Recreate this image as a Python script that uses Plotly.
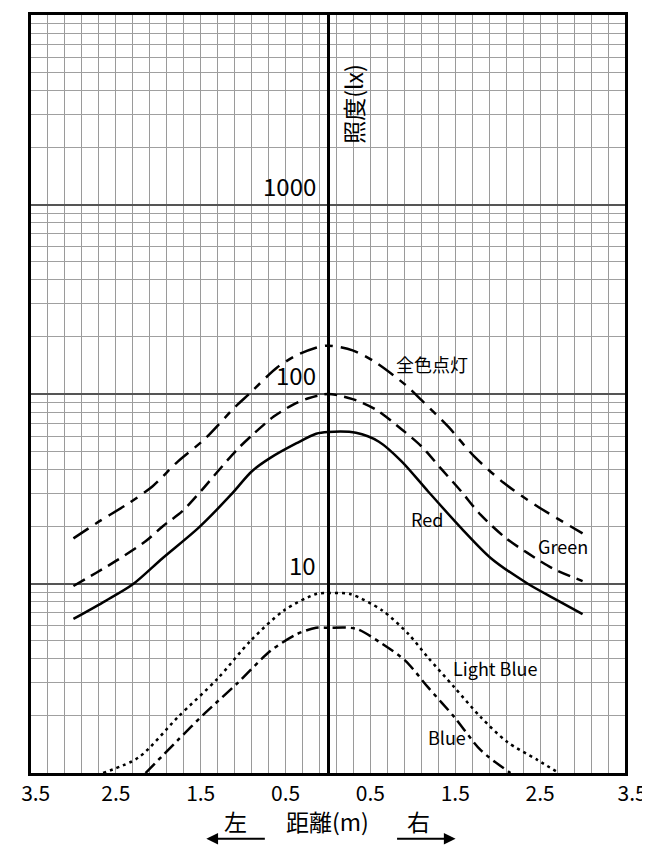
import math
import plotly.graph_objects as go

# ---- data (distance in m, negative = left; illuminance in lx) ----
all_x = [-3.0, -2.73, -2.35, -2.07, -1.77, -1.45, -1.1, -0.93, -0.6, -0.37, -0.15, 0.0,
         0.29, 0.56, 0.91, 1.1, 1.42, 1.72, 2.07, 2.47, 3.0]
all_y = [17.3, 20.8, 26.5, 32.5, 44, 58, 85, 100, 138, 160, 175, 180,
         170, 147, 112, 93, 67, 47, 34, 25.5, 18.4]

green_x = [-3.0, -2.73, -2.47, -2.15, -1.95, -1.72, -1.49, -1.3, -1.07, -0.87, -0.64, -0.41, -0.23, 0.0,
           0.29, 0.56, 0.87, 1.1, 1.34, 1.57, 1.8, 2.1, 2.35, 2.65, 3.0]
green_y = [9.7, 11.4, 13.4, 16.7, 20, 24, 31, 39, 51, 62, 76, 88, 95, 100,
           94, 83, 65, 53, 40, 30.6, 23, 17.3, 14.5, 12, 10.3]

red_x = [-3.0, -2.62, -2.3, -1.95, -1.53, -1.14, -0.9, -0.68, -0.37, -0.14, 0.0,
         0.33, 0.6, 0.87, 1.18, 1.57, 1.92, 2.35, 2.65, 3.0]
red_y = [6.5, 8.1, 9.9, 13.6, 19.6, 29.5, 39, 46, 55, 61.7, 63,
         62.4, 56, 44, 30.6, 19.6, 13.6, 10, 8.4, 6.9]

lblue_x = [-2.65, -2.23, -1.77, -1.3, -0.91, -0.52, -0.14, 0.0,
           0.26, 0.64, 0.95, 1.18, 1.49, 1.8, 2.11, 2.47, 2.72]
lblue_y = [1.0, 1.21, 1.97, 3.15, 5.0, 7.2, 8.8, 8.9,
           8.8, 7.2, 5.4, 4.06, 2.83, 1.97, 1.46, 1.17, 1.0]

blue_x = [-2.15, -1.77, -1.45, -1.07, -0.68, -0.37, -0.14, 0.0,
          0.33, 0.64, 0.91, 1.18, 1.49, 1.8, 2.15]
blue_y = [1.0, 1.49, 2.07, 2.97, 4.4, 5.4, 5.84, 5.84,
          5.77, 4.8, 3.92, 2.83, 1.97, 1.32, 1.0]

series_names = ["全色点灯", "Green", "Red", "Light Blue", "Blue"]

NB = "\u00a0"
x_tickvals = [-3.5, -2.5, -1.5, -0.5, 0.5, 1.5, 2.5, 3.5]
x_ticktext = [NB * 2 + "3.5", "2.5", "1.5", "0.5", "0.5", "1.5", "2.5", NB * 3 + "3.5"]
x_grid = [round(-3.3 + 0.2 * i, 1) for i in range(34)]

y_major = [1, 10, 100, 1000, 10000]
y_minor = [m * 10 ** e for e in range(4) for m in range(2, 10)]
y_labels = ["10", "100", "1000"]
y_label_vals = [10, 100, 1000]

FONT = "Noto Sans CJK JP"

fig = go.Figure()

styles = [
    (all_x, all_y, "18px,8px,8px,8px"),
    (green_x, green_y, "13px,7px"),
    (red_x, red_y, "solid"),
    (lblue_x, lblue_y, "3px,4px"),
    (blue_x, blue_y, "13px,5px,4px,5px"),
]
for (xs, ys, dash), name in zip(styles, series_names):
    fig.add_trace(go.Scatter(
        x=xs, y=ys, mode="lines", name=name,
        line=dict(color="black", width=2.5, dash=dash, shape="spline", smoothing=0.8),
        hoverinfo="skip",
    ))

# screen geometry of the plot area (page coordinates): left 22, top 12, 603 x 761
def px_x(X):
    return (X - 22) / 603

def px_y(Y):
    return (773 - Y) / 761

annotations = []
for lab, v in zip(y_labels, y_label_vals):
    annotations.append(dict(
        x=0, y=math.log10(v), xref="x", yref="y", text=lab, showarrow=False,
        xanchor="right", yanchor="bottom", xshift=-10, yshift=0,
        font=dict(family=FONT, size=24, color="black"),
    ))

label_pos = {
    "全色点灯": (1.22, 362),
    "Red": (1.17, 518),
    "Green": (2.77, 545),
    "Light Blue": (1.97, 667),
    "Blue": (1.40, 737),
}
for name in series_names:
    lx, py = label_pos[name]
    annotations.append(dict(
        x=lx, y=(773 - py) / 190.5, xref="x", yref="y", text=name, showarrow=False,
        xanchor="center", yanchor="middle",
        font=dict(family=FONT, size=18, color="black"),
    ))

# y-axis title
annotations.append(dict(
    x=px_x(349), y=px_y(101), xref="paper", yref="paper", text="照度(lx)", showarrow=False,
    textangle=-90, xanchor="center", yanchor="middle",
    font=dict(family=FONT, size=23, color="black"),
))

# x-axis title pieces
for txt, X in [("左", 230), ("距離(m)", 323), ("右", 415)]:
    annotations.append(dict(
        x=px_x(X), y=px_y(821), xref="paper", yref="paper", text=txt,
        showarrow=False, xanchor="center", yanchor="middle",
        font=dict(family=FONT, size=23, color="black"),
    ))

# arrows
annotations.append(dict(x=px_x(200), y=px_y(839), xref="paper", yref="paper", text="",
                        showarrow=True, ax=60, ay=0, arrowhead=2, arrowsize=1.3,
                        arrowwidth=1.8, arrowcolor="black"))
annotations.append(dict(x=px_x(453), y=px_y(839), xref="paper", yref="paper", text="",
                        showarrow=True, ax=-60, ay=0, arrowhead=2, arrowsize=1.3,
                        arrowwidth=1.8, arrowcolor="black"))

fig.update_layout(
    width=650, height=845,
    margin=dict(l=14, r=33, t=4, b=80),
    plot_bgcolor="white", paper_bgcolor="white",
    showlegend=False,
    annotations=annotations,
    xaxis=dict(
        range=[-3.5, 3.5], tickmode="array", tickvals=x_tickvals, ticktext=x_ticktext,
        ticks="", showgrid=True, gridcolor="#9a9a9a", gridwidth=1,
        ticklabeloverflow="allow",
        minor=dict(tickmode="array", tickvals=x_grid, showgrid=True, gridcolor="#9a9a9a",
                   gridwidth=1, ticks=""),
        zeroline=True, zerolinecolor="black", zerolinewidth=2.5,
        showline=True, linecolor="black", linewidth=2.5, mirror=True,
        tickfont=dict(family=FONT, size=21, color="black"),
        fixedrange=True,
    ),
    yaxis=dict(
        type="log", range=[0, 4], tickmode="array", tickvals=y_major,
        showticklabels=False, ticks="",
        showgrid=True, gridcolor="#555555", gridwidth=1.5,
        minor=dict(tickmode="array", tickvals=y_minor, showgrid=True, gridcolor="#a0a0a0",
                   gridwidth=1, ticks=""),
        zeroline=False,
        showline=True, linecolor="black", linewidth=2.5, mirror=True,
        fixedrange=True,
    ),
)

fig.write_html("out.html")
